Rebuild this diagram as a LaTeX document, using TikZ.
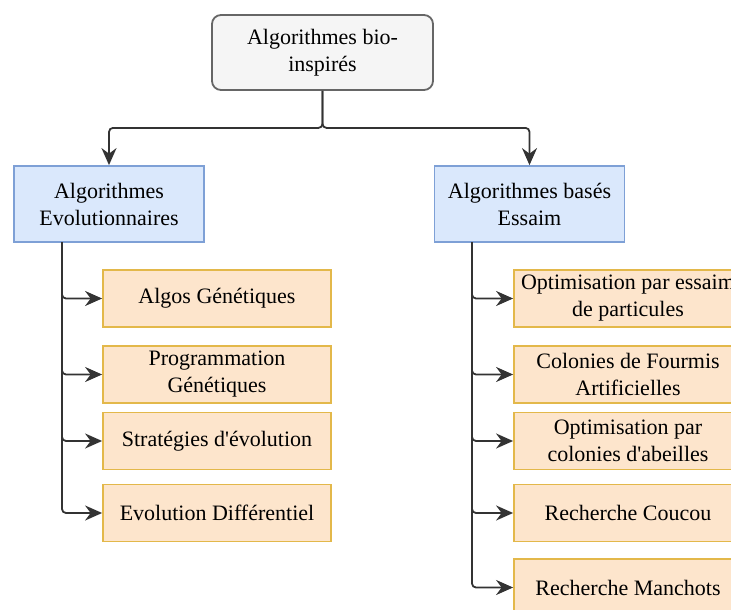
\documentclass[tikz,border=0pt]{standalone}
\usepackage{fontspec}
\setmainfont{Liberation Serif}
\usetikzlibrary{arrows.meta}
\definecolor{rootfill}{HTML}{F5F5F5}
\definecolor{rootline}{HTML}{666666}
\definecolor{catfill}{HTML}{DAE8FC}
\definecolor{catline}{HTML}{7EA0D6}
\definecolor{leaffill}{HTML}{FDE5CC}
\definecolor{leafline}{HTML}{E3B84A}
\definecolor{wire}{HTML}{333333}

\begin{document}
\begin{tikzpicture}[x=1pt,y=-1pt,line width=1.8pt,
  box/.style={align=center,inner sep=2pt,font=\fontsize{22}{27}\selectfont},
  rootbox/.style={box,draw=rootline,fill=rootfill,rounded corners=9pt,minimum width=221pt,minimum height=75pt},
  catbox/.style={box,draw=catline,fill=catfill,minimum width=190pt,minimum height=76pt},
  leafbox/.style={box,draw=leafline,fill=leaffill,minimum width=228pt,minimum height=57pt},
  wirearr/.style={draw=wire,rounded corners=4pt,-{Stealth[length=17pt,width=15pt]}}]
\path[use as bounding box] (0,0) rectangle (731,610);
% top
\node[rootbox] (root) at (322.5,52.5) {Algorithmes bio-\\inspirés};
\node[catbox] (evo) at (109,204) {Algorithmes\\Evolutionnaires};
\node[catbox] (swarm) at (529.5,204) {Algorithmes basés\\Essaim};
\draw[wirearr] (root.south) -- ++(0,37) -| (evo.north);
\draw[wirearr] (root.south) -- ++(0,37) -| (swarm.north);
% evolutionnaires
\node[leafbox] (ag) at (217,298.5) {Algos Génétiques};
\node[leafbox] (pg) at (217,374.5) {Programmation\\Génétiques};
\node[leafbox] (se) at (217,441) {Stratégies d\textquotesingle évolution};
\node[leafbox] (ed) at (217,513) {Evolution Différentiel};
\coordinate (tl) at (62,242);
\foreach \n in {ag,pg,se,ed}
  \draw[wirearr] (tl) |- (\n.west);
% essaim
\node[leafbox] (pso) at (628,298.5) {Optimisation par essaim\\de particules};
\node[leafbox] (acf) at (628,374.5) {Colonies de Fourmis\\Artificielles};
\node[leafbox] (abc) at (628,441) {Optimisation par\\colonies d\textquotesingle abeilles};
\node[leafbox] (cs) at (628,513) {Recherche Coucou};
\node[leafbox] (pm) at (628,587.5) {Recherche Manchots};
\coordinate (tr) at (472,242);
\foreach \n in {pso,acf,abc,cs,pm}
  \draw[wirearr] (tr) |- (\n.west);
\end{tikzpicture}
\end{document}
